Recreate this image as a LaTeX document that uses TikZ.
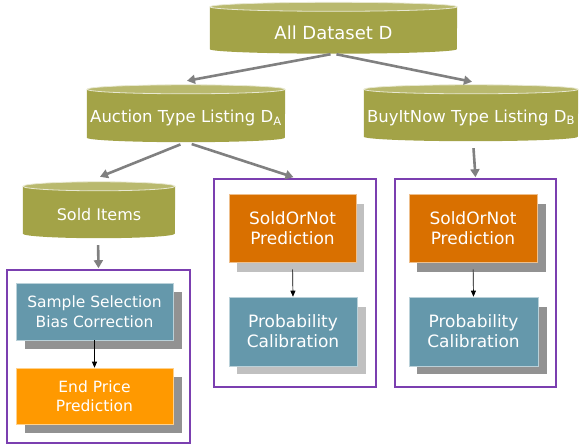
\documentclass[tikz,border=0pt]{standalone}
\usepackage{fontspec}
\setmainfont{DejaVu Sans}
\usetikzlibrary{arrows.meta}
\definecolor{olivebody}{HTML}{A3A347}
\definecolor{olivetop}{HTML}{B9B96E}
\definecolor{darkorange}{HTML}{D97000}
\definecolor{brightorange}{HTML}{FF9900}
\definecolor{tealbox}{HTML}{6598AB}
\definecolor{purpleframe}{HTML}{7B3FB0}
\definecolor{arrowgray}{HTML}{808080}
\definecolor{shadowlight}{HTML}{C0C0C0}
\definecolor{shadowdark}{HTML}{929292}
\newcommand\drawcyl[2]{%
  \fill[olivebody] ([yshift=4.5pt]#1.north west) -- ([yshift=4.5pt]#1.south west)
    arc[start angle=180,end angle=360,x radius=#2pt,y radius=4.5pt]
    -- ([yshift=4.5pt]#1.north east) -- cycle;
  \filldraw[fill=olivetop,draw=white!75!olivebody,line width=0.8pt]
    ([yshift=4.5pt]#1.north) ellipse[x radius=#2pt,y radius=4.5pt];
}
\tikzset{
  cyl/.style={rectangle,inner sep=0pt,text=white},
  frame/.style={draw=purpleframe,line width=1.6pt,fill=white},
  procbox/.style={rectangle,inner sep=0pt,text=white,align=center,
    draw=white!55!#1,line width=0.6pt,fill=#1,font=\fontsize{17}{20}\selectfont},
  bigarrow/.style={draw=arrowgray,line width=2.6pt,
    -{Triangle[length=8pt,width=9pt]}},
  smallarrow/.style={draw=black,line width=0.7pt,-{Triangle[length=6pt,width=5pt]}},
}
\begin{document}
\begin{tikzpicture}[x=1pt,y=-1pt]
\useasboundingbox (0,0) rectangle (579,444);
% cylinders
\node[cyl,minimum width=247pt,minimum height=42pt,font=\fontsize{18}{20}\selectfont] (all) at (333.5,32.5) {};
\drawcyl{all}{123.5}
\node[text=white,font=\fontsize{18}{20}\selectfont] at (all.center) {All Dataset D};
\node[cyl,minimum width=198pt,minimum height=48pt] (auc) at (186,118) {};
\drawcyl{auc}{99}
\node[text=white,font=\fontsize{16.5}{20}\selectfont] at (auc.center) {Auction Type Listing D\textsubscript{A}};
\node[cyl,minimum width=214pt,minimum height=47pt] (buy) at (471,117.5) {};
\drawcyl{buy}{107}
\node[text=white,font=\fontsize{16.5}{20}\selectfont] at (buy.center) {BuyItNow Type Listing D\textsubscript{B}};
\node[cyl,minimum width=152pt,minimum height=47pt] (sold) at (99,214.5) {};
\drawcyl{sold}{76}
\node[text=white,font=\fontsize{16}{20}\selectfont] at (sold.center) {Sold Items};
% frames
\node[frame,inner sep=0pt,minimum width=183pt,minimum height=173pt] (f1) at (98.5,356.5) {};
\node[frame,inner sep=0pt,minimum width=162pt,minimum height=208pt] (f2) at (295,283) {};
\node[frame,inner sep=0pt,minimum width=161pt,minimum height=208pt] (f3) at (475.5,283) {};
% shadows
\fill[shadowdark] (25,292) rectangle (182,349);
\fill[shadowdark] (25,377) rectangle (182,433);
\fill[shadowlight] (237,204) rectangle (364,272);
\fill[shadowlight] (237,307) rectangle (366,374);
\fill[shadowdark] (417,204) rectangle (546,272);
\fill[shadowdark] (417,307) rectangle (547,374);
% boxes
\node[procbox=tealbox,minimum width=157pt,minimum height=57pt,font=\fontsize{15.5}{19.5}\selectfont] (b1a) at (94.5,311.5) {Sample Selection\\Bias Correction};
\node[procbox=brightorange,minimum width=157pt,minimum height=56pt,font=\fontsize{15.5}{19.5}\selectfont] (b1b) at (94.5,396) {End Price\\Prediction};
\node[procbox=darkorange,minimum width=127pt,minimum height=68pt] (b2a) at (292.5,228) {SoldOrNot\\Prediction};
\node[procbox=tealbox,minimum width=128pt,minimum height=69pt] (b2b) at (293,331.5) {Probability\\Calibration};
\node[procbox=darkorange,minimum width=128pt,minimum height=68pt] (b3a) at (473,228) {SoldOrNot\\Prediction};
\node[procbox=tealbox,minimum width=129pt,minimum height=69pt] (b3b) at (473.5,331.5) {Probability\\Calibration};
% big arrows
\draw[bigarrow,shorten <=3pt] (all.south) -- ([xshift=1pt,yshift=13pt]auc.north);
\draw[bigarrow,shorten <=3pt] (all.south) -- ([xshift=1pt,yshift=12pt]buy.north);
\draw[bigarrow,shorten <=6pt] (auc.south) -- ([xshift=1pt,yshift=14pt]sold.north);
\draw[bigarrow,shorten <=6pt] (auc.south) -- ([xshift=-1.5pt,yshift=1pt]f2.north);
\draw[bigarrow,shorten <=7pt] ([xshift=2pt]buy.south) -- ([yshift=1pt]f3.north);
\draw[bigarrow,shorten <=7pt] ([xshift=-1pt]sold.south) -- ([yshift=1pt]f1.north);
% small arrows
\draw[smallarrow] (b1a.south) -- (b1b.north);
\draw[smallarrow,shorten <=7pt] (b2a.south) -- (b2b.north);
\draw[smallarrow,shorten <=7pt] (b3a.south) -- (b3b.north);
\end{tikzpicture}
\end{document}
